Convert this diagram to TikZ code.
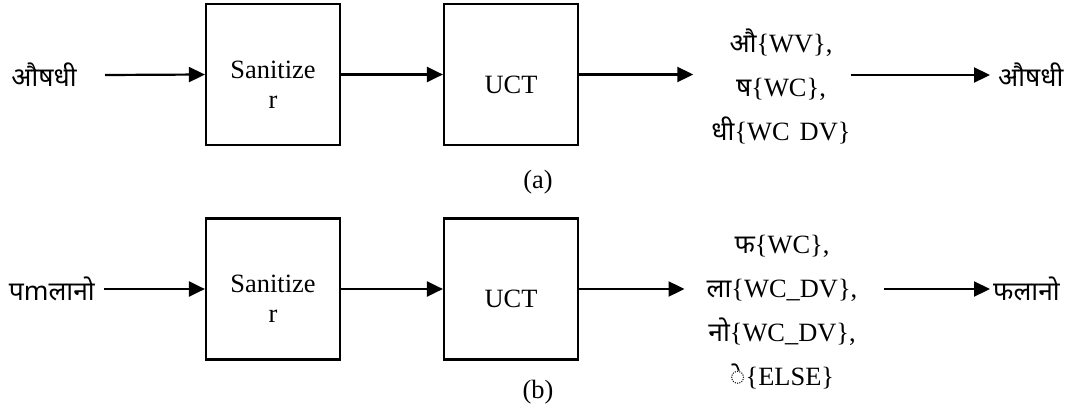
\documentclass[tikz,border=0pt]{standalone}
\usepackage{fontspec}
\setmainfont{Liberation Serif}
\newfontfamily\dev[Script=Devanagari]{Noto Sans}
\usetikzlibrary{arrows.meta}
\tikzset{
  box/.style={draw, line width=2.2pt, minimum width=134pt, minimum height=141pt, inner sep=0pt},
  lbl/.style={inner sep=0pt, font=\fontsize{26.4}{30}\selectfont},
  mid/.style={inner sep=0pt, align=center, font=\fontsize{26.4}{44}\selectfont},
  arr/.style={line width=2.2pt, -{Triangle[length=16pt,width=15pt]}}
}
\begin{document}
\begin{tikzpicture}[x=1pt,y=-1pt]
\useasboundingbox (0,0) rectangle (1084,410);
% (a)
\node[box] (sana) at (273,74.5) {};
\node[box] (ucta) at (511,74.5) {};
\node[lbl, anchor=base] (sana1) at (273,78) {Sanitize};
\node[lbl, anchor=base] (sana2) at (273,108) {r};
\node[lbl, anchor=base] (uctat) at (511,93) {UCT};
\node[lbl, anchor=east] (ina) at (77,75) {\dev औषधी};
\node[mid, anchor=north] (mida) at (781,29) {{\dev औ}\{WV\},\\{\dev ष}\{WC\},\\{\dev धी}\{WC\hspace{10pt}DV\}};
\node[lbl, anchor=west] (outa) at (998,75) {\dev औषधी};
\node[lbl] (capa) at (538,182) {(a)};
\draw[arr] ([xshift=28pt]ina.east) -- (sana.west);
\draw[arr] (sana.east) -- (ucta.west);
\draw[arr] (ucta.east) -- ([xshift=-18pt]ucta.east -| mida.west);
\draw[arr] (mida.east |- outa.west) -- ([xshift=-8pt]outa.west);
% (b)
\node[box] (sanb) at (273,289) {};
\node[box] (uctb) at (511,289) {};
\node[lbl, anchor=base] (sanb1) at (273,292) {Sanitize};
\node[lbl, anchor=base] (sanb2) at (273,322) {r};
\node[lbl, anchor=base] (uctbt) at (511,307) {UCT};
\node[lbl, anchor=east] (inb) at (95,289) {\dev पmलानो};
\node[mid, anchor=north] (midb) at (782,235) {{\dev फ}\{WC\},\\{\dev ला}\{WC\_DV\},\\{\dev नो}\{WC\_DV\},\\{\dev ◌े}\{ELSE\}};
\node[lbl, anchor=west] (outb) at (993,289) {\dev फलानो};
\node[lbl] (capb) at (538,392) {(b)};
\draw[arr] ([xshift=9pt]inb.east) -- (sanb.west);
\draw[arr] (sanb.east) -- (uctb.west);
\draw[arr] (uctb.east) -- ([xshift=-22pt]uctb.east -| midb.west);
\draw[arr] ([xshift=27pt]midb.east |- outb.west) -- ([xshift=-3pt]outb.west);
\end{tikzpicture}
\end{document}
